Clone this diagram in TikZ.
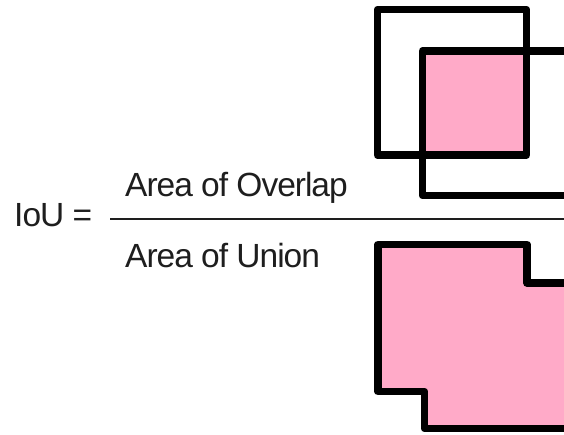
\documentclass[tikz,border=0pt]{standalone}
\usepackage{fontspec}
\setmainfont{Liberation Sans}[LetterSpace=-3]
\definecolor{boxpink}{RGB}{255,170,200}
\definecolor{inkgray}{RGB}{30,30,30}
\tikzset{
  boxline/.style={line width=7.5pt, black, line join=round},
  fracline/.style={line width=2.4pt, inkgray},
  label/.style={inner sep=0pt, anchor=base west, text=inkgray,
    font=\fontsize{33.5pt}{38pt}\selectfont},
}
\begin{document}
\begin{tikzpicture}[x=1pt, y=-1pt]
  \useasboundingbox (0,0) rectangle (564,435);
  \clip (0,0) rectangle (564,435);

  % formula
  \node[label] (iou) at (14,227) {IoU =};
  \node[label] (num) at (125,197) {Area of Overlap};
  \node[label] (den) at (125,268) {Area of Union};
  \coordinate (barL) at (110,219);
  \coordinate (barR) at (570,219);
  \draw[fracline] (barL) -- (barR);

  % two overlapping boxes, intersection shaded
  \fill[boxpink] (422.5,51) rectangle (526.5,155);
  \draw[boxline] (377.5,9.5) rectangle (526.5,155);
  \draw[boxline] (422.5,51) rectangle (640,195.5);

  % union of the two boxes
  \draw[boxline, fill=boxpink]
    (378,244.5) -- (527,244.5) -- (527,283) -- (640,283)
    -- (640,428.5) -- (424.5,428.5) -- (424.5,391.5) -- (378,391.5) -- cycle;
\end{tikzpicture}
\end{document}
